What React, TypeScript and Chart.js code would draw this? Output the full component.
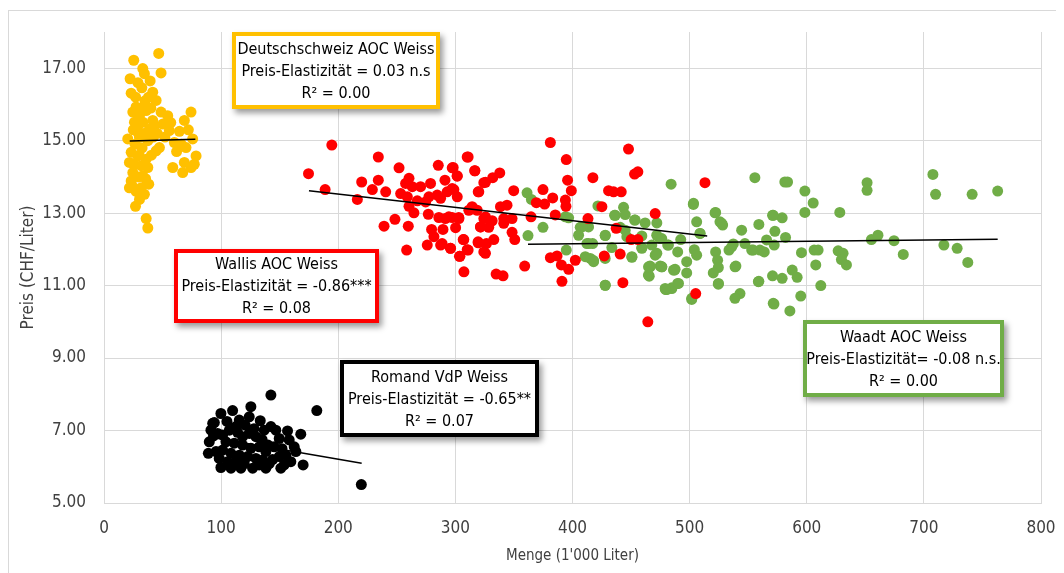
import React, { useEffect, useRef } from 'react';
import { Chart, registerables } from 'chart.js';

Chart.register(...registerables);

const FONT = "'Liberation Sans Narrow', 'DejaVu Sans Condensed', 'Arial Narrow', sans-serif";

const xTicks = [0, 100, 200, 300, 400, 500, 600, 700, 800];
const yTicks = [5, 7, 9, 11, 13, 15, 17];
const xRange = [0, 800];
const yRange = [5, 18];
const xTitle = "Menge (1'000 Liter)";
const yTitle = 'Preis (CHF/Liter)';

const deutschschweizPoints: [number, number][] = [
  [46.7, 17.41], [25.4, 17.22], [33.1, 16.99], [48.7, 16.87], [22.3, 16.71], [34.5, 16.85], [39.4, 16.65],
  [32.3, 16.46], [23.2, 16.31], [41.6, 16.34], [44.5, 16.11], [27.4, 15.93], [24.6, 15.79], [30.3, 15.69],
  [36.0, 15.83], [48.7, 15.79], [54.4, 15.69], [74.3, 15.79], [68.6, 15.56], [26.0, 15.51], [33.1, 15.51],
  [41.6, 15.56], [50.2, 15.46], [38.8, 15.32], [28.8, 15.23], [55.8, 15.28], [64.4, 15.26], [20.3, 15.05],
  [30.3, 15.09], [37.4, 15.0], [47.3, 14.81], [44.5, 14.72], [75.7, 15.05], [60.1, 14.95], [70.0, 14.81],
  [78.6, 14.58], [23.2, 14.68], [28.8, 14.58], [36.0, 14.49], [21.7, 14.40], [68.6, 14.40], [77.1, 14.35],
  [31.7, 14.31], [37.4, 14.26], [58.7, 14.26], [74.3, 14.26], [24.6, 14.12], [67.2, 14.12], [33.1, 14.03],
  [23.2, 13.89], [38.2, 13.80], [21.7, 13.70], [31.7, 13.70], [34.5, 13.52], [30.3, 13.38], [26.9, 13.19],
  [36.0, 12.85], [37.4, 12.59], [27.0, 16.2], [35.0, 16.1], [29.0, 15.4], [32.0, 15.9], [40.0, 15.9],
  [43.0, 15.4], [45.5, 15.2], [34.0, 15.2], [26.5, 14.9], [32.5, 14.8], [40.5, 14.6], [25.5, 14.35],
  [29.5, 14.0], [35.5, 13.95], [27.5, 13.6], [29.0, 16.6], [38.0, 16.2], [52.0, 15.1], [62.0, 14.7],
  [72.0, 15.3], [25.0, 15.3], [30.0, 14.6], [42.0, 15.1], [57.0, 15.5], [66.0, 14.9], [24.0, 13.75],
];

const wallisPoints: [number, number][] = [
  [194.5, 14.88], [174.6, 14.09], [188.8, 13.65], [234.2, 14.55], [220.0, 13.86], [216.3, 13.38], [229.1, 13.65],
  [234.2, 13.91], [240.5, 13.59], [251.9, 14.25], [260.4, 13.96], [257.5, 13.82], [253.3, 13.54], [259.0, 13.45],
  [263.2, 13.73], [270.3, 13.73], [278.8, 13.82], [285.4, 14.32], [297.3, 14.25], [291.1, 13.91], [301.6, 14.02],
  [310.1, 14.55], [316.6, 14.17], [324.3, 13.84], [319.5, 13.59], [293.0, 13.59], [297.3, 13.68], [301.6, 13.45],
  [284.5, 13.50], [277.4, 13.45], [287.4, 13.41], [274.6, 13.31], [267.5, 13.34], [260.4, 13.19], [264.6, 13.01],
  [248.4, 12.83], [239.1, 12.64], [259.8, 12.64], [276.9, 12.97], [285.9, 12.88], [291.4, 12.85], [297.3, 12.88],
  [303.0, 12.85], [300.2, 12.60], [289.4, 12.55], [279.7, 12.55], [281.7, 12.35], [276.0, 12.12], [287.4, 12.12],
  [295.9, 12.03], [306.7, 12.27], [258.4, 11.98], [303.9, 11.81], [310.1, 11.99], [319.5, 12.18], [307.3, 11.38],
  [311.5, 13.08], [318.6, 13.08], [325.7, 12.90], [321.5, 12.62], [324.3, 11.93],
  [381.1, 14.95], [310.9, 14.55], [298.1, 14.26], [316.6, 14.17], [301.5, 14.03], [337.9, 14.11], [331.9, 13.98],
  [325.7, 13.85], [298.7, 13.65], [320.0, 13.59], [349.8, 13.62], [374.8, 13.65], [394.7, 14.48], [395.8, 13.91],
  [399.0, 13.62], [383.1, 13.42], [393.9, 13.36], [369.1, 13.29], [376.2, 13.25], [394.4, 13.19], [344.1, 13.22],
  [338.5, 13.18], [314.3, 13.18], [294.4, 12.90], [302.9, 12.88], [324.3, 12.85], [331.4, 12.79], [341.3, 12.85],
  [348.4, 12.85], [364.6, 12.90], [385.3, 12.95], [321.4, 12.62], [328.5, 12.61], [341.3, 12.72], [348.4, 12.47],
  [350.7, 12.27], [332.8, 12.27], [319.4, 12.21], [326.5, 12.16], [307.2, 12.27], [288.7, 12.16], [295.8, 12.03],
  [310.9, 11.98], [325.7, 11.89], [303.5, 11.81], [334.8, 11.32], [340.7, 11.27], [359.2, 11.54], [381.1, 11.77],
  [386.8, 11.82], [390.5, 11.57], [396.7, 11.45], [402.4, 11.70], [391.0, 11.12], [417.4, 13.98], [430.8, 13.62],
  [435.1, 13.59], [441.6, 13.59], [447.8, 14.77], [453.0, 14.08], [455.8, 14.14], [425.1, 13.18], [413.2, 12.85],
  [437.3, 12.58], [450.1, 12.27], [455.8, 12.27], [470.6, 12.99], [427.1, 11.82], [440.7, 11.87], [443.0, 11.08],
  [464.3, 10.00], [513.1, 13.84], [505.2, 10.78],
];

const waadtPoints: [number, number][] = [
  [361.2, 13.56], [364.9, 13.38], [374.8, 12.61], [362.0, 12.38], [394.7, 11.98], [396.7, 12.87], [406.6, 12.61],
  [413.7, 12.62], [421.7, 13.20], [427.9, 12.38], [412.3, 12.16], [417.2, 12.16], [433.6, 12.05], [435.9, 12.94],
  [443.6, 13.16], [445.0, 12.96], [453.0, 12.81], [445.0, 12.53], [440.7, 12.61], [462.0, 12.73], [472.0, 12.73],
  [459.2, 12.37], [459.2, 12.05], [467.7, 12.12], [474.8, 12.30], [481.9, 12.12], [470.6, 11.84], [474.8, 11.54],
  [466.3, 11.52], [465.5, 11.26], [487.6, 11.45], [450.7, 11.78], [415.2, 11.75], [427.9, 11.75], [418.0, 11.69],
  [427.9, 11.01], [480.5, 10.89], [484.8, 10.92], [484.2, 13.80],
  [555.7, 13.98], [581.3, 13.86], [583.6, 13.86], [598.4, 13.61], [605.5, 13.28], [628.2, 13.02], [598.4, 13.02],
  [503.2, 13.24], [522.2, 13.02], [506.0, 12.76], [525.9, 12.76], [528.2, 12.67], [559.1, 12.69], [579.0, 12.87],
  [570.8, 12.94], [572.8, 12.50], [544.4, 12.53], [508.9, 12.44], [492.4, 12.27], [581.9, 12.33], [471.9, 12.39],
  [476.2, 12.30], [537.3, 12.15], [547.2, 12.16], [565.7, 12.26], [572.2, 12.12], [554.3, 11.98], [560.0, 11.98],
  [563.7, 11.93], [533.6, 11.98], [522.2, 11.93], [504.0, 11.99], [506.0, 11.84], [489.8, 11.93], [481.3, 12.12],
  [595.5, 11.91], [606.3, 11.98], [609.7, 11.98], [626.8, 11.96], [631.0, 11.89], [629.6, 11.72], [633.9, 11.57],
  [607.7, 11.57], [523.9, 11.70], [524.5, 11.50], [520.2, 11.35], [539.5, 11.54], [497.5, 11.66], [497.5, 11.35],
  [487.0, 11.43], [476.2, 11.52], [466.2, 11.54], [464.8, 11.29], [587.6, 11.43], [591.8, 11.23], [579.0, 11.20],
  [570.8, 11.27], [559.1, 11.12], [524.5, 11.04], [489.8, 11.06], [484.7, 10.94], [479.6, 10.89], [612.0, 11.00],
  [594.9, 10.71], [543.0, 10.78], [538.7, 10.65], [501.8, 10.62], [572.0, 10.49], [585.6, 10.30],
  [651.5, 13.84], [651.5, 13.63], [707.7, 14.07], [710.0, 13.52], [741.2, 13.52], [763.0, 13.61], [655.2, 12.27],
  [660.8, 12.39], [674.5, 12.24], [717.1, 12.12], [728.4, 12.03], [737.5, 11.64], [682.4, 11.86],
  [393.9, 12.90], [408.1, 12.62], [405.2, 12.39], [413.8, 12.16], [428.0, 12.39], [410.9, 11.80], [418.0, 11.66],
  [428.0, 11.01], [436.5, 12.94], [453.5, 12.81], [446.4, 12.35], [459.2, 12.03], [450.7, 11.80], [472.0, 11.89],
  [476.3, 11.52], [464.9, 11.52], [486.2, 11.43], [479.1, 10.92], [490.5, 11.06], [501.8, 10.65], [503.3, 13.27],
  [508.9, 12.44], [521.7, 13.01], [527.4, 12.72], [535.9, 12.07], [538.8, 11.52], [524.6, 11.06], [558.7, 11.11],
  [571.4, 10.51], [553.0, 11.98], [571.4, 12.94],
];

const romandPoints: [number, number][] = [
  [142.5, 7.98], [181.7, 7.55], [219.7, 5.51], [99.8, 7.47], [109.8, 7.55], [125.4, 7.66], [124.0, 7.38],
  [133.4, 7.27], [115.5, 7.29], [94.2, 7.22], [91.3, 7.01], [89.9, 6.69], [89.1, 6.37], [98.4, 6.23],
  [99.8, 5.98], [108.4, 5.96], [116.9, 5.96], [126.9, 5.96], [138.2, 5.96], [151.0, 5.96], [153.8, 6.05],
  [159.5, 6.14], [170.0, 6.05], [168.0, 6.90], [156.7, 6.99], [142.5, 7.11], [149.6, 6.78], [162.4, 6.55],
  [163.8, 6.42], [158.1, 6.74], [145.3, 6.55], [138.2, 6.42], [132.5, 6.55], [129.7, 6.83], [124.0, 6.92],
  [118.3, 6.83], [112.6, 7.11], [107.0, 7.01], [101.3, 6.88], [97.0, 6.92], [104.1, 6.69], [111.2, 6.65],
  [118.3, 6.60], [125.4, 6.51], [101.3, 6.46], [108.4, 6.37], [115.5, 6.32], [122.6, 6.28], [129.7, 6.23],
  [135.4, 6.19], [143.9, 6.20], [149.6, 6.28], [95.6, 6.42], [112.6, 6.14], [105.5, 6.14], [119.7, 6.09],
  [132.5, 6.05], [141.1, 6.09], [155.3, 6.32], [92.8, 7.2], [146.7, 7.01], [136.8, 7.01], [120.5, 7.15],
  [128.0, 7.05], [105.0, 7.25], [114.0, 6.95], [135.0, 6.75], [140.0, 6.60], [152.0, 6.50], [93.5, 6.85],
];

const deutschschweizTrend: [number, number][] = [[22, 14.99], [78, 15.04]];
const wallisTrend: [number, number][] = [[175, 13.62], [515, 12.37]];
const waadtTrend: [number, number][] = [[362, 12.14], [763, 12.28]];
const romandTrend: [number, number][] = [[90, 6.82], [220, 6.10]];

const annotationBoxes = [
  { x: 198.5, y: 16.94, w: 208, h: 77, color: '#FFC000', lines: ['Deutschschweiz AOC Weiss', 'Preis-Elastizität = 0.03 n.s', 'R² = 0.00'] },
  { x: 147.5, y: 10.98, w: 205, h: 74, color: '#FF0000', lines: ['Wallis AOC Weiss', 'Preis-Elastizität = -0.86***', 'R² = 0.08'] },
  { x: 286.7, y: 7.88, w: 199, h: 77, color: '#000000', lines: ['Romand VdP Weiss', 'Preis-Elastizität = -0.65**', 'R² = 0.07'] },
  { x: 682.7, y: 8.99, w: 201, h: 77, color: '#70AD47', lines: ['Waadt AOC Weiss', 'Preis-Elastizität= -0.08 n.s.', 'R² = 0.00'] },
];

const toXY = (arr: [number, number][]) => arr.map(([x, y]) => ({ x, y }));

const boxPlugin = {
  id: 'boxes',
  afterDraw(chart: any) {
    const { ctx, scales } = chart;
    const xs = scales.x, ys = scales.y;
    for (const b of annotationBoxes) {
      const cx = xs.getPixelForValue(b.x);
      const cy = ys.getPixelForValue(b.y);
      const left = Math.round(cx - b.w / 2);
      const top = Math.round(cy - b.h / 2);
      ctx.save();
      ctx.shadowColor = 'rgba(0,0,0,0.4)';
      ctx.shadowBlur = 6;
      ctx.shadowOffsetX = 3;
      ctx.shadowOffsetY = 4;
      ctx.fillStyle = b.color;
      ctx.fillRect(left, top, b.w, b.h);
      ctx.shadowColor = 'transparent';
      ctx.shadowBlur = 0;
      ctx.shadowOffsetX = 0;
      ctx.shadowOffsetY = 0;
      ctx.fillStyle = '#ffffff';
      ctx.fillRect(left + 4, top + 4, b.w - 8, b.h - 8);
      ctx.fillStyle = '#000000';
      ctx.font = `16px ${FONT}`;
      ctx.textAlign = 'center';
      ctx.textBaseline = 'middle';
      const lh = 22;
      b.lines.forEach((t, i) => {
        ctx.fillText(t, left + b.w / 2, top + b.h / 2 + (i - 1) * lh + 1);
      });
      ctx.restore();
    }
  },
};

const scatterDs = (label: string, pts: [number, number][], color: string, order: number) => ({
  type: 'scatter' as const,
  label,
  data: toXY(pts),
  backgroundColor: color,
  borderColor: color,
  pointRadius: 5.5,
  pointBorderWidth: 0,
  order,
});

const lineDs = (label: string, pts: [number, number][]) => ({
  type: 'line' as const,
  label,
  data: toXY(pts),
  borderColor: '#000000',
  borderWidth: 1.5,
  pointRadius: 0,
  fill: false,
  showLine: true,
  order: 0,
});

export default function App() {
  const ref = useRef<HTMLCanvasElement | null>(null);
  useEffect(() => {
    if (!ref.current) return;
    const chart = new Chart(ref.current, {
      type: 'scatter',
      data: {
        datasets: [
          lineDs('Deutschschweiz Trend', deutschschweizTrend),
          lineDs('Wallis Trend', wallisTrend),
          lineDs('Waadt Trend', waadtTrend),
          lineDs('Romand Trend', romandTrend),
          scatterDs('Romand VdP Weiss', romandPoints, '#000000', 1),
          scatterDs('Wallis AOC Weiss', wallisPoints, '#FF0000', 2),
          scatterDs('Waadt AOC Weiss', waadtPoints, '#70AD47', 3),
          scatterDs('Deutschschweiz AOC Weiss', deutschschweizPoints, '#FFC000', 4),
        ] as any,
      },
      options: {
        animation: false,
        responsive: false,
        maintainAspectRatio: false,
        events: [],
        layout: { padding: { left: 0, right: 16, top: 21, bottom: 0 } },
        plugins: { legend: { display: false }, tooltip: { enabled: false } },
        scales: {
          x: {
            type: 'linear',
            min: xRange[0],
            max: xRange[1],
            afterBuildTicks: (axis: any) => { axis.ticks = xTicks.map((v) => ({ value: v })); },
            afterFit: (axis: any) => {
              axis.height = 70;
              axis.paddingLeft = 0;
              axis.paddingRight = 0;
            },
            grid: { color: '#d9d9d9', lineWidth: 1, drawTicks: false },
            border: { color: '#d9d9d9', width: 1 },
            ticks: { color: '#404040', font: { family: FONT, size: 17 }, padding: 15, maxRotation: 0 },
            title: { display: true, text: xTitle, color: '#404040', font: { family: FONT, size: 15 }, padding: { top: 4, bottom: 8 } },
          },
          y: {
            type: 'linear',
            min: yRange[0],
            max: yRange[1],
            afterBuildTicks: (axis: any) => { axis.ticks = yTicks.map((v) => ({ value: v })); },
            afterFit: (axis: any) => {
              axis.width = 95;
              axis.paddingTop = 0;
              axis.paddingBottom = 0;
            },
            grid: { color: '#d9d9d9', lineWidth: 1, drawTicks: false },
            border: { color: '#d9d9d9', width: 1 },
            ticks: { color: '#404040', font: { family: FONT, size: 17 }, padding: 18, callback: (v: any) => Number(v).toFixed(2) },
            title: { display: true, text: yTitle, color: '#404040', font: { family: FONT, size: 17 }, padding: { top: 9, bottom: 4 } },
          },
        },
      },
      plugins: [boxPlugin],
    } as any);
    return () => chart.destroy();
  }, []);
  return (
    <div style={{ paddingTop: 2 }}>
      <div style={{ width: 1050, height: 566, border: '1px solid #d9d9d9', boxSizing: 'border-box', position: 'relative' }}>
        <canvas ref={ref} width={1048} height={562} style={{ display: 'block', width: 1048, height: 562 }} />
      </div>
    </div>
  );
}
